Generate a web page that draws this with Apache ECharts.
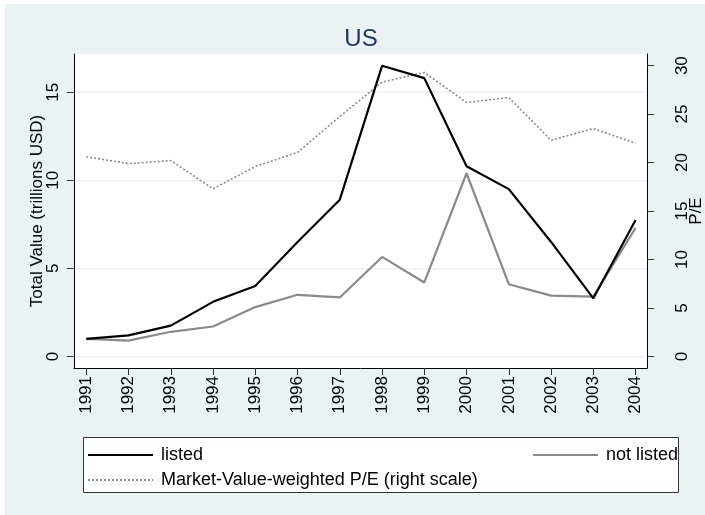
<!DOCTYPE html>
<html>
<head>
<meta charset="utf-8">
<script src="https://cdn.jsdelivr.net/npm/echarts@6/dist/echarts.min.js"></script>
<style>
  html, body { margin: 0; padding: 0; background: #fff; }
  #chart { width: 705px; height: 515px; }
</style>
</head>
<body>
<div id="chart"></div>
<script>
// values
var years = [1991, 1992, 1993, 1994, 1995, 1996, 1997, 1998, 1999, 2000, 2001, 2002, 2003, 2004];
var listed = [1.0, 1.2, 1.75, 3.1, 4.0, 6.5, 8.9, 16.5, 15.8, 10.8, 9.5, 6.5, 3.3, 7.75];
var notListed = [1.0, 0.9, 1.4, 1.7, 2.8, 3.5, 3.35, 5.65, 4.2, 10.4, 4.1, 3.45, 3.4, 7.3];
var peRatio = [20.6, 19.9, 20.2, 17.3, 19.6, 21.05, 24.75, 28.3, 29.3, 26.2, 26.7, 22.3, 23.5, 22.0];
var leftTicks = [0, 5, 10, 15];
var rightTicks = [0, 5, 10, 15, 20, 25, 30];

var FONT = '"Liberation Sans", Arial, sans-serif';
var BG = '#EAF2F3';

function pairs(vals) {
    return years.map(function (y, i) { return [y, vals[i]]; });
}

var chart = echarts.init(document.getElementById('chart'), null, { renderer: 'canvas' });

var legendText = { fontFamily: FONT, fontSize: 18, color: '#000', padding: [0, 0, 0, 3] };
var legendBase = {
    itemWidth: 65, itemHeight: 14, textStyle: legendText,
    selectedMode: false, itemStyle: { opacity: 0 }
};

var option = {
    backgroundColor: BG,
    animation: false,
    title: {
        text: 'US',
        left: 356,
        top: 22,
        textAlign: 'center',
        textStyle: { fontFamily: FONT, fontSize: 24, fontWeight: 'normal', color: '#1F3566' }
    },
    grid: {
        left: 74, top: 54, right: 58, bottom: 147,
        outerBoundsMode: 'none', containLabel: false,
        show: true, backgroundColor: '#fff', borderWidth: 0
    },
    graphic: [
        { type: 'rect', z: -1, shape: { x: 0, y: 0, width: 705, height: 4 }, style: { fill: '#fff' } },
        { type: 'rect', z: -1, shape: { x: 0, y: 0, width: 5, height: 515 }, style: { fill: '#fff' } },
        { type: 'rect', z: 1, shape: { x: 83.5, y: 437.5, width: 595, height: 55 },
          style: { fill: '#fff', stroke: '#333', lineWidth: 1 } }
    ],
    legend: [
        Object.assign({ data: ['listed'], left: 82, top: 441 }, legendBase),
        Object.assign({ data: ['not listed'], left: 527, top: 441 }, legendBase),
        Object.assign({ data: ['Market-Value-weighted P/E (right scale)'], left: 82, top: 466 }, legendBase)
    ],
    xAxis: {
        type: 'value',
        min: 1990.71,
        max: 2004.27,
        splitLine: { show: false },
        axisLine: { show: true, onZero: false, lineStyle: { color: '#000', width: 1 } },
        axisTick: { show: true, length: 7, customValues: years, lineStyle: { color: '#333' } },
        axisLabel: {
            customValues: years, rotate: 90, margin: 8,
            fontFamily: FONT, fontSize: 17, color: '#000',
            formatter: function (v) { return String(v); }
        }
    },
    yAxis: [
        {
            type: 'value',
            position: 'left',
            min: -0.656,
            max: 17.17,
            name: 'Total Value (trillions USD)',
            nameLocation: 'middle',
            nameGap: 28.5,
            nameRotate: 90,
            nameMoveOverlap: false,
            nameTextStyle: { fontFamily: FONT, fontSize: 17, color: '#000' },
            axisLine: { show: true, onZero: false, lineStyle: { color: '#000', width: 1 } },
            axisTick: { show: true, length: 7, customValues: leftTicks, lineStyle: { color: '#333' } },
            axisLabel: { customValues: leftTicks, rotate: 90, margin: 12, fontFamily: FONT, fontSize: 17, color: '#000' },
            splitLine: { show: true, lineStyle: { color: BG, width: 1.5 } }
        },
        {
            type: 'value',
            position: 'right',
            min: -1.19,
            max: 31.2,
            name: 'P/E',
            nameLocation: 'middle',
            nameGap: 41,
            nameRotate: 90,
            nameMoveOverlap: false,
            nameTextStyle: { fontFamily: FONT, fontSize: 17, color: '#000' },
            axisLine: { show: true, onZero: false, lineStyle: { color: '#000', width: 1 } },
            axisTick: { show: true, length: 7, customValues: rightTicks, lineStyle: { color: '#333' } },
            axisLabel: { customValues: rightTicks, rotate: 90, margin: 27, fontFamily: FONT, fontSize: 17, color: '#000' },
            splitLine: { show: false }
        }
    ],
    series: [
        {
            name: 'listed', type: 'line', yAxisIndex: 0, data: pairs(listed),
            symbol: 'none', lineStyle: { color: '#000', width: 2.2 }, itemStyle: { color: '#000' }, z: 4
        },
        {
            name: 'not listed', type: 'line', yAxisIndex: 0, data: pairs(notListed),
            symbol: 'none', lineStyle: { color: '#8a8a8a', width: 2.2 }, itemStyle: { color: '#8a8a8a' }, z: 3
        },
        {
            name: 'Market-Value-weighted P/E (right scale)', type: 'line', yAxisIndex: 1, data: pairs(peRatio),
            symbol: 'none', lineStyle: { color: '#8a8a8a', width: 1.6, type: [2, 2] }, itemStyle: { color: '#8a8a8a' }, z: 2
        }
    ]
};

chart.setOption(option);
</script>
</body>
</html>
